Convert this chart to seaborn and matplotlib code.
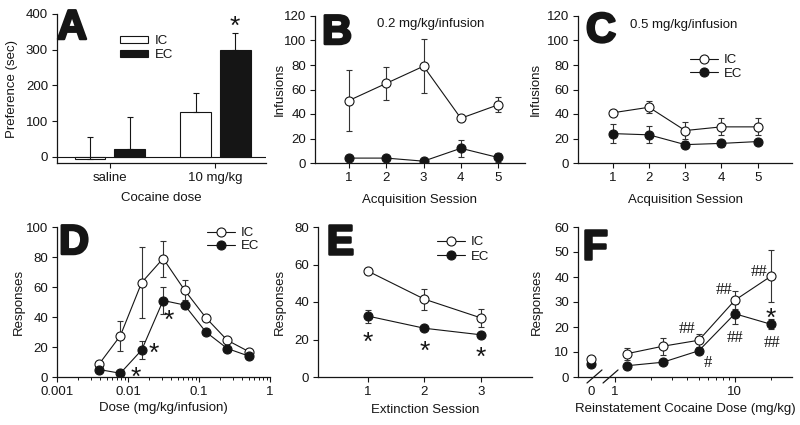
import numpy as np
import pandas as pd
import matplotlib
matplotlib.use("Agg")
import matplotlib.pyplot as plt
import matplotlib.patheffects as pe
from matplotlib.lines import Line2D
from matplotlib.patches import Patch
from matplotlib.ticker import FixedLocator, NullFormatter, LogLocator
import seaborn as sns

# ==========================================
# DATA
# ==========================================
# A - place preference
a_doses = ["saline", "10 mg/kg"]
a_ic = [-5, 127]
a_ic_err = [60, 51]
a_ec = [22, 300]
a_ec_err = [91, 48]

# B - acquisition, 0.2 mg/kg/infusion
sessions = [1, 2, 3, 4, 5]
b_ic = [51, 65, 79, 36.5, 47.5]
b_ic_err = [25, 13.5, 22, 0, 6]
b_ec = [4, 4, 1.5, 12, 4.5]
b_ec_err = [0, 0, 0, 7, 3.5]

# C - acquisition, 0.5 mg/kg/infusion
c_ic = [41, 45.5, 26.5, 29.5, 29.5]
c_ic_err = [1.5, 5, 7, 7, 7]
c_ec = [24, 23, 15, 16, 17.5]
c_ec_err = [8, 7, 3, 3, 2]

# D - dose response
d_dose = [0.0039, 0.0078, 0.0156, 0.03125, 0.0625, 0.125, 0.25, 0.5]
d_ic = [8.5, 27.5, 63, 79, 58, 39.5, 24.5, 17]
d_ic_err = [0, 10, 23.5, 12, 6.5, 2, 1, 0]
d_ec = [5, 2.5, 18, 51, 48, 30, 19, 14]
d_ec_err = [0, 0, 6, 9, 2, 0, 0, 0]

# E - extinction
e_session = [1, 2, 3]
e_ic = [56.5, 41.5, 31.5]
e_ic_err = [0, 5.5, 5]
e_ec = [32.5, 26, 22.5]
e_ec_err = [3.5, 0, 0]

# F - reinstatement
f_dose = [1.25, 2.5, 5, 10, 20]
f_ic = [9.3, 12.3, 14.7, 30.7, 40.3]
f_ic_err = [2.4, 3.3, 2.7, 3.6, 10.4]
f_ec = [4.5, 5.9, 10.5, 25.3, 21.1]
f_ec_err = [0, 0, 0, 4, 2]
f_ic_zero = 7.3
f_ec_zero = 5.3

# ==========================================
# STYLE
# ==========================================
INK = "#151515"
FS = 9.5
W, H = 800, 425
sns.set_theme(style="ticks")
plt.rcParams['font.family'] = ['Liberation Sans', 'DejaVu Sans']
plt.rcParams.update({
    'font.size': FS, 'axes.labelsize': FS,
    'xtick.labelsize': FS, 'ytick.labelsize': FS,
    'axes.linewidth': 0.9, 'axes.edgecolor': INK,
    'text.color': INK, 'axes.labelcolor': INK,
    'xtick.color': INK, 'ytick.color': INK,
    'xtick.major.size': 3.5, 'ytick.major.size': 3.5,
    'xtick.minor.size': 2, 'xtick.major.width': 0.8,
    'ytick.major.width': 0.8, 'xtick.minor.width': 0.7,
    'xtick.major.pad': 3, 'ytick.major.pad': 3,
})

fig = plt.figure(figsize=(8, 4.25), dpi=100)


def box(x0, y0, x1, y1):
    # pixel box -> figure fraction
    return [x0 / W, 1 - y1 / H, (x1 - x0) / W, (y1 - y0) / H]


axA = fig.add_axes(box(57, 14, 266, 163))
axB = fig.add_axes(box(315, 16, 525, 163))
axC = fig.add_axes(box(578, 16, 792, 163))
axD = fig.add_axes(box(57, 227, 270, 377))
axE = fig.add_axes(box(318, 227, 532, 377))
axF = fig.add_axes(box(578, 227, 792, 377))
for ax in [axA, axB, axC, axD, axE, axF]:
    sns.despine(ax=ax)
    ax.set_facecolor('white')


def labels(ax, xlab, ylab, x_px, y_px):
    # axis titles centred at given pixel positions
    pos = ax.get_position()
    ax.set_xlabel(xlab, va='center')
    ax.set_ylabel(ylab, va='center')
    ax.xaxis.set_label_coords(0.5, (1 - y_px / H - pos.y0) / pos.height)
    ax.yaxis.set_label_coords((x_px / W - pos.x0) / pos.width, 0.5)


def draw_series(ax, x, y, err, filled):
    ax.errorbar(x, y, yerr=err, fmt='none', ecolor='#333333', elinewidth=0.8,
                capsize=2.5, capthick=0.8, zorder=2)
    sns.lineplot(x=x, y=y, ax=ax, color=INK, lw=0.8, marker='o', markersize=6.5,
                 markerfacecolor=INK if filled else 'white', markeredgecolor=INK,
                 markeredgewidth=0.8, zorder=3, legend=False)


def mark(ax, x, y, txt, dx, dy, size=19, serif=False):
    # dx, dy = pixel offset of the glyph centre (dy > 0 is below)
    frac = 0.34 if serif else 0.575
    ax.annotate(txt, (x, y), xytext=(dx * 0.72, -dy * 0.72 - frac * size),
                textcoords='offset points', ha='center', va='baseline',
                fontsize=size, color=INK,
                family='Liberation Serif' if serif else 'Liberation Sans',
                annotation_clip=False)


def line_legend(ax, x_px, y_px, spacing):
    handles = [Line2D([], [], color=INK, lw=0.8, marker='o', ms=6.5, mfc='white', mec=INK, mew=0.8),
               Line2D([], [], color=INK, lw=0.8, marker='o', ms=6.5, mfc=INK, mec=INK, mew=0.8)]
    ax.legend(handles, ['IC', 'EC'], loc='upper left', bbox_to_anchor=(x_px / W, 1 - y_px / H),
              bbox_transform=fig.transFigure, frameon=False, borderpad=0, borderaxespad=0,
              handlelength=2.1, handletextpad=0.45, labelspacing=spacing, fontsize=FS)


def letter(txt, x_px, y_px):
    fig.text(x_px / W, 1 - y_px / H, txt, fontsize=30, fontweight='bold', ha='left', va='top',
             color=INK, path_effects=[pe.withStroke(linewidth=1.8, foreground=INK)])


# ==========================================
# A - bars
# ==========================================
dfA = pd.DataFrame({
    'dose': a_doses * 2,
    'group': ['IC'] * 2 + ['EC'] * 2,
    'pref': a_ic + a_ec,
})
sns.barplot(data=dfA, x='dose', y='pref', hue='group', order=a_doses, hue_order=['IC', 'EC'],
            palette={'IC': 'white', 'EC': INK}, saturation=1, edgecolor=INK, linewidth=0.8,
            width=0.75, gap=0.22, errorbar=None, legend=False, ax=axA)
bar_sets = list(axA.containers)
for cont, vals, errs in zip(bar_sets, [a_ic, a_ec], [a_ic_err, a_ec_err]):
    for bar, v, e in zip(cont, vals, errs):
        xc = bar.get_x() + bar.get_width() / 2
        axA.errorbar(xc, v, yerr=[[0], [e]], fmt='none', ecolor=INK, elinewidth=0.8,
                     capsize=2.5, capthick=0.8, zorder=1)
ec_bar = bar_sets[1][1]
mark(axA, ec_bar.get_x() + ec_bar.get_width() / 2, a_ec[1] + a_ec_err[1], '*', 0, -13.5)
axA.axhline(0, color=INK, lw=0.8, zorder=0)
axA.set_xlim(-0.5, 1.48)
axA.set_ylim(-17, 400)
axA.set_yticks([0, 100, 200, 300, 400])
axA.legend([Patch(facecolor='white', edgecolor=INK, lw=0.8), Patch(facecolor=INK, edgecolor=INK, lw=0.8)],
           ['IC', 'EC'], loc='upper left', bbox_to_anchor=(120 / W, 1 - 35 / H),
           bbox_transform=fig.transFigure, frameon=False, borderpad=0, borderaxespad=0,
           handlelength=2.1, handleheight=0.45, handletextpad=0.55, labelspacing=0.15, fontsize=FS)
labels(axA, 'Cocaine dose', 'Preference (sec)', 12, 198)

# ==========================================
# B / C - acquisition
# ==========================================
for ax, ic, ice, ec, ece in [(axB, b_ic, b_ic_err, b_ec, b_ec_err),
                             (axC, c_ic, c_ic_err, c_ec, c_ec_err)]:
    draw_series(ax, sessions, ic, ice, False)
    draw_series(ax, sessions, ec, ece, True)
    ax.set_ylim(0, 120)
    ax.set_yticks(range(0, 121, 20))
    ax.set_xticks(sessions)
axB.set_xlim(0.09, 5.72)
axC.set_xlim(0.04, 5.95)
axB.text(377 / W, 1 - 24 / H, '0.2 mg/kg/infusion', transform=fig.transFigure, va='center', fontsize=FS)
axC.text(630 / W, 1 - 25 / H, '0.5 mg/kg/infusion', transform=fig.transFigure, va='center', fontsize=FS)
line_legend(axC, 690, 54, 0.1)
labels(axB, 'Acquisition Session', 'Infusions', 280, 200)
labels(axC, 'Acquisition Session', 'Infusions', 536, 200)

# ==========================================
# D - dose response
# ==========================================
axD.set_xscale('log')
draw_series(axD, d_dose, d_ic, d_ic_err, False)
draw_series(axD, d_dose, d_ec, d_ec_err, True)
axD.set_xlim(0.001, 1)
axD.set_ylim(0, 100)
axD.set_yticks(range(0, 101, 20))
axD.xaxis.set_major_locator(FixedLocator([0.001, 0.01, 0.1, 1]))
axD.set_xticklabels(['0.001', '0.01', '0.1', '1'])
axD.xaxis.set_minor_locator(LogLocator(subs=np.arange(2, 10)))
axD.xaxis.set_minor_formatter(NullFormatter())
for i, dx, dy in [(1, 15, -4), (2, 12, -4.5), (3, 6, 12.5)]:
    mark(axD, d_dose[i], d_ec[i], '*', dx, dy)
line_legend(axD, 207, 227, 0.05)
labels(axD, 'Dose (mg/kg/infusion)', 'Responses', 19, 408)

# ==========================================
# E - extinction
# ==========================================
draw_series(axE, e_session, e_ic, e_ic_err, False)
draw_series(axE, e_session, e_ec, e_ec_err, True)
axE.set_xlim(0.12, 3.9)
axE.set_ylim(0, 80)
axE.set_yticks(range(0, 81, 20))
axE.set_xticks(e_session)
for i, dy in zip(range(3), [19, 15, 15]):
    mark(axE, e_session[i], e_ec[i], '*', 0, dy)
line_legend(axE, 437, 236, 0.18)
labels(axE, 'Extinction Session', 'Responses', 280, 410)

# ==========================================
# F - reinstatement (broken log axis)
# ==========================================
ZERO_POS = 0.63
axF.set_xscale('log')
axF.errorbar([ZERO_POS], [f_ec_zero], fmt='o', ms=6.5, mfc=INK, mec=INK, mew=0.8, zorder=3)
axF.errorbar([ZERO_POS], [f_ic_zero], fmt='o', ms=6.5, mfc='white', mec=INK, mew=0.8, zorder=3)
draw_series(axF, f_dose, f_ic, f_ic_err, False)
draw_series(axF, f_dose, f_ec, f_ec_err, True)
axF.set_xlim(0.49, 30)
axF.set_ylim(0, 60)
axF.set_yticks(range(0, 61, 10))
axF.xaxis.set_major_locator(FixedLocator([ZERO_POS, 1, 10]))
axF.set_xticklabels(['0', '1', '10'])
axF.xaxis.get_major_ticks()[0].tick1line.set_visible(False)
axF.xaxis.set_minor_locator(FixedLocator([2, 3, 4, 5, 6, 7, 8, 9, 20]))
axF.xaxis.set_minor_formatter(NullFormatter())
for x0, x1 in [(0.042, 0.112), (0.117, 0.187)]:
    axF.plot([x0, x1], [-0.04, 0.047], transform=axF.transAxes, color=INK, lw=0.9, clip_on=False)
# significance marks
for series, i, txt, dx, dy in [(f_ic, 2, '##', -12, -13), (f_ic, 3, '##', -11, -12),
                               (f_ic, 4, '##', -12, -6), (f_ec, 3, '##', 0, 23),
                               (f_ec, 4, '##', 1, 17), (f_ec, 2, '#', 9, 11)]:
    mark(axF, f_dose[i], series[i], txt, dx, dy, size=12, serif=True)
mark(axF, f_dose[4], f_ec[4], '*', 0, -14)
labels(axF, 'Reinstatement Cocaine Dose (mg/kg)', 'Responses', 537, 409)

# panel letters
letter('A', 57, 8)
letter('B', 322, 13)
letter('C', 586, 11)
letter('D', 59, 223)
letter('E', 326, 223)
letter('F', 582, 228)

fig.savefig('out.png', dpi=100)
